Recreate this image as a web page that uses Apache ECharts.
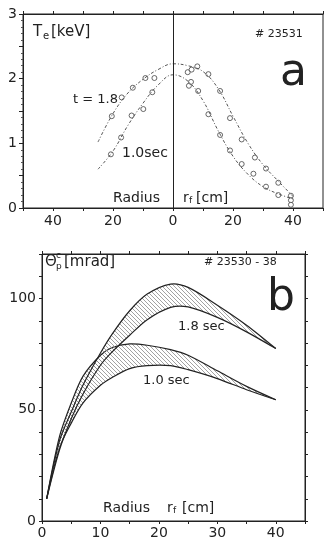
<!DOCTYPE html>
<html>
<head>
<meta charset="utf-8">
<script src="https://cdn.jsdelivr.net/npm/echarts@6/dist/echarts.min.js"></script>
<style>
  html, body { margin: 0; padding: 0; background: #fff; }
  #chart { width: 324px; height: 540px; }
</style>
</head>
<body>
<div id="chart"></div>
<script>
// ---- panel a : Te profiles (radius, negative = left side) ----
var teRadius = [-25, -20, -15, -10, -5, 0, 5, 10, 15, 20, 25, 30, 35, 40];
var teFit18 = [1.02, 1.46, 1.78, 1.99, 2.14, 2.23, 2.2, 2.11, 1.85, 1.42, 1.0, 0.67, 0.42, 0.18];
var teFit10 = [0.6, 0.88, 1.28, 1.62, 1.9, 2.06, 1.96, 1.66, 1.2, 0.8, 0.52, 0.33, 0.22, 0.14];

var pts18X = [-20.4, -17.1, -13.4, -9.2, -6.2, 4.9, 6.2, 8.1, 11.8, 15.7, 19, 22.9, 27.3, 31, 35.1, 39.3];
var pts18Y = [1.42, 1.71, 1.86, 2.01, 2.01, 2.10, 2.14, 2.19, 2.07, 1.81, 1.39, 1.06, 0.78, 0.61, 0.39, 0.19];
var pts10X = [-20.7, -17.3, -13.8, -9.9, -6.9, 5.3, 6.0, 8.4, 11.8, 15.7, 19, 22.9, 26.8, 31, 35.1, 39.3, 39.3];
var pts10Y = [0.83, 1.09, 1.43, 1.53, 1.79, 1.89, 1.95, 1.81, 1.45, 1.13, 0.89, 0.68, 0.53, 0.33, 0.20, 0.12, 0.05];
var teXLabels = [-40, -20, 0, 20, 40];
var teYLabels = [0, 1, 2, 3];

// ---- panel b : theta_p bands ----
var thRadius = [0.8, 3, 5, 7, 10, 12, 15, 18, 22, 25, 30, 35, 40];
var th18Upper = [10, 36, 49, 61, 75.5, 84, 94.5, 102, 106.5, 105, 97, 88, 77.5];
var th18Lower = [10, 32, 46, 57, 70, 76, 83.5, 90.5, 96, 96.2, 91.5, 85, 77.5];
var th10Upper = [10, 38, 53, 65, 74.5, 78, 79.6, 79, 77, 74.5, 67.5, 60.5, 54.5];
var th10Lower = [10, 33, 44, 53, 61, 64.5, 68.5, 69.8, 69.8, 68, 64, 59, 54.5];
var thXLabels = [0, 10, 20, 30, 40];
var thYLabels = [0, 50, 100];

var ink = "#222";
var font = "DejaVu Sans";

function pairs(xs, ys) {
  return xs.map(function (x, i) { return [x, ys[i]]; });
}

// hatch pattern for the bands
var hatch = document.createElement("canvas");
hatch.width = 4;
hatch.height = 4;
var hc = hatch.getContext("2d");
hc.strokeStyle = "#8a8a8a";
hc.lineWidth = 0.8;
hc.beginPath();
hc.moveTo(0, 0); hc.lineTo(4, 4);
hc.moveTo(-1, 3); hc.lineTo(1, 5);
hc.moveTo(3, -1); hc.lineTo(5, 1);
hc.stroke();

var bands = [
  { upper: th10Upper, lower: th10Lower },
  { upper: th18Upper, lower: th18Lower }
];

var chart = echarts.init(document.getElementById("chart"));

var fitLine = { color: "#555", width: 1, type: [3, 2, 1, 2] };
var pointStyle = { color: "#fff", borderColor: "#444", borderWidth: 1 };

function txt(x, y, text, size) {
  return {
    type: "text", z: 10,
    style: { text: text, x: x, y: y, fill: ink, font: size + "px '" + font + "'", textVerticalAlign: "middle" }
  };
}

function renderBand(params, api) {
  var b = bands[params.dataIndex];
  var up = thRadius.map(function (x, i) { return api.coord([x, b.upper[i]]); });
  var lo = thRadius.map(function (x, i) { return api.coord([x, b.lower[i]]); });
  var loop = up.concat(lo.slice(1, lo.length - 1).reverse());
  return {
    type: "group",
    children: [
      { type: "polygon", shape: { points: loop, smooth: 0.3 }, style: { fill: { image: hatch, repeat: "repeat" }, stroke: null } },
      { type: "polyline", shape: { points: up, smooth: 0.3 }, style: { fill: null, stroke: ink, lineWidth: 1.2 } },
      { type: "polyline", shape: { points: lo, smooth: 0.3 }, style: { fill: null, stroke: ink, lineWidth: 1.2 } }
    ]
  };
}

var label = { color: ink, fontSize: 14, fontFamily: font };
var axLine = { onZero: false, lineStyle: { color: ink } };

var option = {
  backgroundColor: "#fff",
  animation: false,
  grid: [
    { left: 23, right: 1, top: 14, height: 194, show: true, borderColor: ink, borderWidth: 1, outerBoundsMode: "none", containLabel: false },
    { left: 42, right: 19, top: 254, height: 267, show: true, borderColor: ink, borderWidth: 1, outerBoundsMode: "none", containLabel: false }
  ],
  xAxis: [
    {
      gridIndex: 0, type: "value", min: -50, max: 50, interval: 10,
      axisLine: axLine,
      axisTick: { length: 3, lineStyle: { color: ink } },
      splitLine: { show: false },
      axisLabel: Object.assign({ margin: 6, customValues: teXLabels,
        formatter: function (v) { return String(Math.abs(Math.round(v))); } }, label)
    },
    {
      gridIndex: 0, type: "value", position: "top", min: -50, max: 50, interval: 10,
      axisLine: axLine,
      axisTick: { length: 3, lineStyle: { color: ink } },
      axisLabel: { show: false }, splitLine: { show: false }
    },
    {
      gridIndex: 1, type: "value", min: 0, max: 45, interval: 5,
      axisLine: axLine,
      axisTick: { length: 3, lineStyle: { color: ink } },
      splitLine: { show: false },
      axisLabel: Object.assign({ margin: 5, customValues: thXLabels }, label)
    },
    {
      gridIndex: 1, type: "value", position: "top", min: 0, max: 45, interval: 5,
      axisLine: axLine,
      axisTick: { length: 3, lineStyle: { color: ink } },
      axisLabel: { show: false }, splitLine: { show: false }
    }
  ],
  yAxis: [
    {
      gridIndex: 0, type: "value", min: 0, max: 3, interval: 0.5,
      axisLine: axLine,
      axisTick: { length: 4, lineStyle: { color: ink } },
      minorTick: { show: true, splitNumber: 5, length: 2, lineStyle: { color: "#555" } },
      splitLine: { show: false },
      axisLabel: Object.assign({ margin: 6, customValues: teYLabels }, label)
    },
    {
      gridIndex: 1, type: "value", min: 0, max: 120, interval: 10,
      axisLine: axLine,
      axisTick: { length: 3, lineStyle: { color: ink } },
      splitLine: { show: false },
      axisLabel: Object.assign({ margin: 6, customValues: thYLabels }, label)
    },
    {
      gridIndex: 1, type: "value", position: "right", min: 0, max: 120, interval: 10,
      axisLine: axLine,
      axisTick: { length: 3, lineStyle: { color: ink } },
      axisLabel: { show: false }, splitLine: { show: false }
    }
  ],
  series: [
    {
      type: "line", xAxisIndex: 0, yAxisIndex: 0, smooth: 0.4, symbol: "none",
      data: pairs(teRadius, teFit18), lineStyle: fitLine,
      markLine: {
        silent: true, symbol: "none", label: { show: false },
        lineStyle: { color: ink, width: 1, type: "solid" },
        data: [[{ coord: [0, 0] }, { coord: [0, 3] }]]
      }
    },
    {
      type: "line", xAxisIndex: 0, yAxisIndex: 0, smooth: 0.4, symbol: "none",
      data: pairs(teRadius, teFit10), lineStyle: fitLine
    },
    {
      type: "scatter", xAxisIndex: 0, yAxisIndex: 0, symbol: "circle", symbolSize: 5,
      data: pairs(pts18X, pts18Y), itemStyle: pointStyle
    },
    {
      type: "scatter", xAxisIndex: 0, yAxisIndex: 0, symbol: "circle", symbolSize: 5,
      data: pairs(pts10X, pts10Y), itemStyle: pointStyle
    },
    {
      type: "custom", xAxisIndex: 2, yAxisIndex: 1, renderItem: renderBand,
      data: [[0, 0], [0, 0]], silent: true
    }
  ],
  graphic: [
    // panel a
    txt(33, 32, "T", 15),
    txt(43, 36, "e", 10),
    txt(51, 32, "[keV]", 15),
    txt(255, 34, "# 23531", 11),
    txt(280, 74, "a", 44),
    txt(73, 100, "t = 1.8", 13),
    txt(122, 153, "1.0sec", 14),
    txt(113, 198, "Radius", 14),
    txt(183, 198, "r", 14),
    txt(189, 201, "f", 9),
    txt(196, 198, "[cm]", 14),
    // panel b
    txt(45, 262, "\u0398", 15),
    txt(56, 256, "c", 9),
    txt(56, 267, "p", 9),
    txt(64, 262, "[mrad]", 15),
    txt(204, 262, "# 23530 - 38", 11),
    txt(267, 299, "b", 44),
    txt(178, 327, "1.8 sec", 13),
    txt(143, 381, "1.0 sec", 13),
    txt(103, 508, "Radius", 14),
    txt(167, 508, "r", 14),
    txt(173, 511, "f", 9),
    txt(182, 508, "[cm]", 14)
  ]
};

chart.setOption(option);
</script>
</body>
</html>
